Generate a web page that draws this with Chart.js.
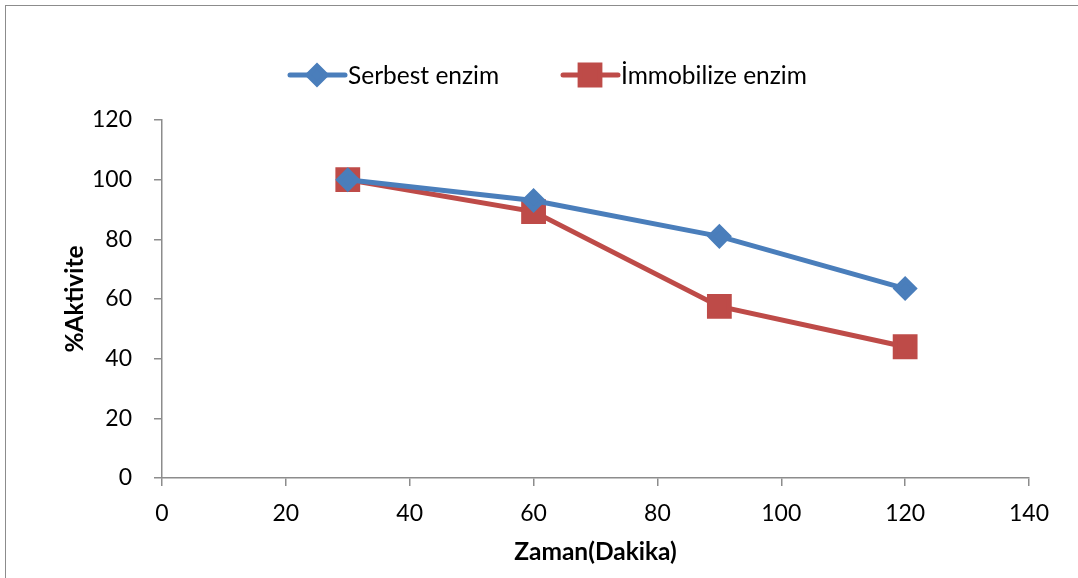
<!DOCTYPE html>
<html><head><meta charset="utf-8">
<script src="https://cdn.jsdelivr.net/npm/chart.js@4"></script>
<style>html,body{margin:0;padding:0;background:#fff;}#wrap{width:1078px;height:578px;position:relative;}</style>
</head><body><div id="wrap"><canvas id="c" width="1078" height="578"></canvas></div>
<script>
const seriesNames = ['Serbest enzim', 'İmmobilize enzim'];
const xValues = [30, 60, 90, 120];
const serbest = [100, 93, 81, 63.5];
const immobilize = [100, 89.3, 57.5, 44];
const xTitle = 'Zaman(Dakika)';
const yTitle = '%Aktivite';
const FONT = "Lato, 'Open Sans', sans-serif";

const toPts = (ys) => xValues.map((x, i) => ({x: x, y: ys[i]}));

const frame = {
  id: 'frame',
  beforeDraw(chart) {
    const ctx = chart.ctx;
    ctx.save();
    ctx.fillStyle = '#fff';
    ctx.fillRect(0, 0, chart.width, chart.height);
    ctx.strokeStyle = '#8c8c8c';
    ctx.lineWidth = 1;
    ctx.strokeRect(5.5, 5.5, 1200, 700);
    ctx.restore();
  }
};

const legendPlugin = {
  id: 'customLegend',
  afterDraw(chart) {
    const ctx = chart.ctx;
    const items = [{x0: 290, tx: 348}, {x0: 563, tx: 621}];
    const y = 75;
    ctx.save();
    chart.data.datasets.forEach((ds, i) => {
      const it = items[i];
      ctx.strokeStyle = ds.borderColor;
      ctx.lineWidth = ds.borderWidth;
      ctx.lineCap = 'round';
      ctx.beginPath();
      ctx.moveTo(it.x0, y);
      ctx.lineTo(it.x0 + 55, y);
      ctx.stroke();
      ctx.fillStyle = ds.pointBackgroundColor;
      ctx.strokeStyle = ds.pointBorderColor;
      Chart.helpers.drawPoint(ctx, {pointStyle: ds.pointStyle, radius: ds.pointRadius, borderWidth: 1, rotation: 0}, it.x0 + 27, y);
      ctx.fillStyle = '#000';
      ctx.font = "24.5px " + FONT;
      ctx.textBaseline = 'middle';
      ctx.textAlign = 'left';
      ctx.fillText(ds.label, it.tx, y + 1);
    });
    ctx.restore();
  }
};

new Chart(document.getElementById('c'), {
  type: 'scatter',
  data: {
    datasets: [
      {label: seriesNames[0], data: toPts(serbest), showLine: true, borderColor: '#4A7EBB', borderWidth: 5,
       pointStyle: 'rectRot', pointRadius: 9, pointHoverRadius: 9, pointBackgroundColor: '#4A7EBB', pointBorderColor: '#4A7EBB'},
      {label: seriesNames[1], data: toPts(immobilize), showLine: true, borderColor: '#BE4B48', borderWidth: 5,
       pointStyle: 'rect', pointRadius: 14, pointHoverRadius: 14, pointBackgroundColor: '#BE4B48', pointBorderColor: '#BE4B48'}
    ]
  },
  options: {
    responsive: false,
    animation: false,
    events: [],
    layout: {padding: {left: 0, right: 49, top: 120, bottom: 0}},
    plugins: {legend: {display: false}, tooltip: {enabled: false}},
    scales: {
      x: {
        type: 'linear', min: 0, max: 140,
        ticks: {stepSize: 20, color: '#000', font: {family: FONT, size: 23}, padding: 14, maxRotation: 0},
        grid: {drawOnChartArea: false, color: '#8c8c8c', tickLength: 8, lineWidth: 1.5},
        border: {color: '#8c8c8c', width: 1.5},
        title: {display: true, text: xTitle, color: '#000', font: {family: FONT, size: 24.5, weight: 'bold'}, padding: {top: 4, bottom: 11}},
        afterFit(s) { s.height = 100; }
      },
      y: {
        type: 'linear', min: 0, max: 120,
        ticks: {stepSize: 20, color: '#000', font: {family: FONT, size: 23}, padding: 22},
        grid: {drawOnChartArea: false, color: '#8c8c8c', tickLength: 8, lineWidth: 1.5},
        border: {color: '#8c8c8c', width: 1.5},
        title: {display: true, text: yTitle, color: '#000', font: {family: FONT, size: 24.5, weight: 'bold'}, padding: {top: 60, bottom: 0}},
        afterFit(s) { s.width = 162; }
      }
    }
  },
  plugins: [frame, legendPlugin]
});
</script></body></html>
